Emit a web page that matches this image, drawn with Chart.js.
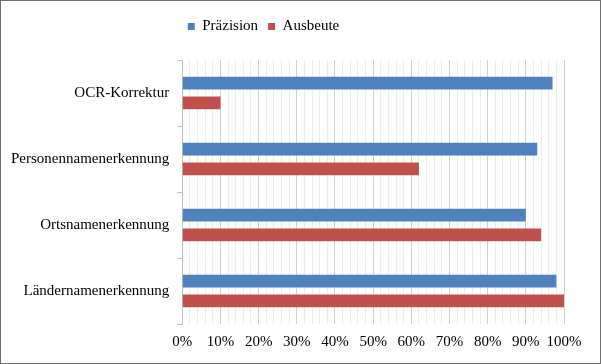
<!DOCTYPE html>
<html lang="de">
<head>
  <meta charset="UTF-8" />
  <title>Präzision und Ausbeute</title>
  <script src="https://cdn.jsdelivr.net/npm/chart.js"></script>
  <style>
    html, body { margin: 0; padding: 0; background: white; }
    .box {
      width: 599px; height: 362px;
      border: 1px solid #6e6e6e;
      position: relative;
    }
  </style>
</head>
<body>
  <div class="box">
    <canvas id="chart"></canvas>
  </div>

  <script>
    const categories = ['OCR-Korrektur', 'Personennamenerkennung', 'Ortsnamenerkennung', 'Ländernamenerkennung'];
    const praezision = [97, 93, 90, 98];
    const ausbeute = [10, 62, 94, 100];
    const seriesNames = ['Präzision', 'Ausbeute'];

    const font = { family: '"Liberation Serif", "Times New Roman", serif', size: 15 };

    // minor gridlines every 2%, major every 10%
    const gridColor = ctx => (ctx.tick && ctx.tick.value % 10 === 0) ? '#d0d0d0' : '#ececec';

    // more room under the legend, and legend sits a bit left of centre
    const legendTweak = {
      id: 'legendTweak',
      beforeInit(chart) {
        const fit = chart.legend.fit;
        chart.legend.fit = function () {
          fit.bind(chart.legend)();
          this.height += 16;
        };
      },
      beforeDraw(chart) {
        if (!chart.legend._shifted) {
          chart.legend.right -= 40;
          chart.legend._shifted = true;
        }
      },
      afterLayout(chart) { chart.legend._shifted = false; }
    };

    new Chart(document.getElementById('chart'), {
      type: 'bar',
      data: {
        labels: categories,
        datasets: [
          { label: seriesNames[0], data: praezision, backgroundColor: '#4f81bd',
            categoryPercentage: 0.6, barPercentage: 0.65 },
          { label: seriesNames[1], data: ausbeute, backgroundColor: '#c0504d',
            categoryPercentage: 0.6, barPercentage: 0.65 }
        ]
      },
      options: {
        indexAxis: 'y',
        responsive: true,
        maintainAspectRatio: false,
        animation: false,
        layout: { padding: { top: 8, right: 36, bottom: 3, left: 2 } },
        plugins: {
          legend: {
            position: 'top',
            labels: { font: font, color: '#000', boxWidth: 7, boxHeight: 7, padding: 10 }
          },
          tooltip: { enabled: false }
        },
        scales: {
          x: {
            min: 0, max: 100,
            ticks: {
              stepSize: 2,
              autoSkip: false,
              maxRotation: 0,
              font: font, color: '#000',
              padding: 9,
              callback: v => v % 10 === 0 ? v + '%' : ''
            },
            grid: { color: gridColor, drawTicks: false },
            border: { display: false }
          },
          y: {
            ticks: { font: font, color: '#000', padding: 8 },
            grid: { drawOnChartArea: false, drawTicks: true, tickLength: 5, color: '#bfbfbf' },
            border: { display: true, color: '#bfbfbf' }
          }
        }
      },
      plugins: [legendTweak]
    });
  </script>
</body>
</html>
